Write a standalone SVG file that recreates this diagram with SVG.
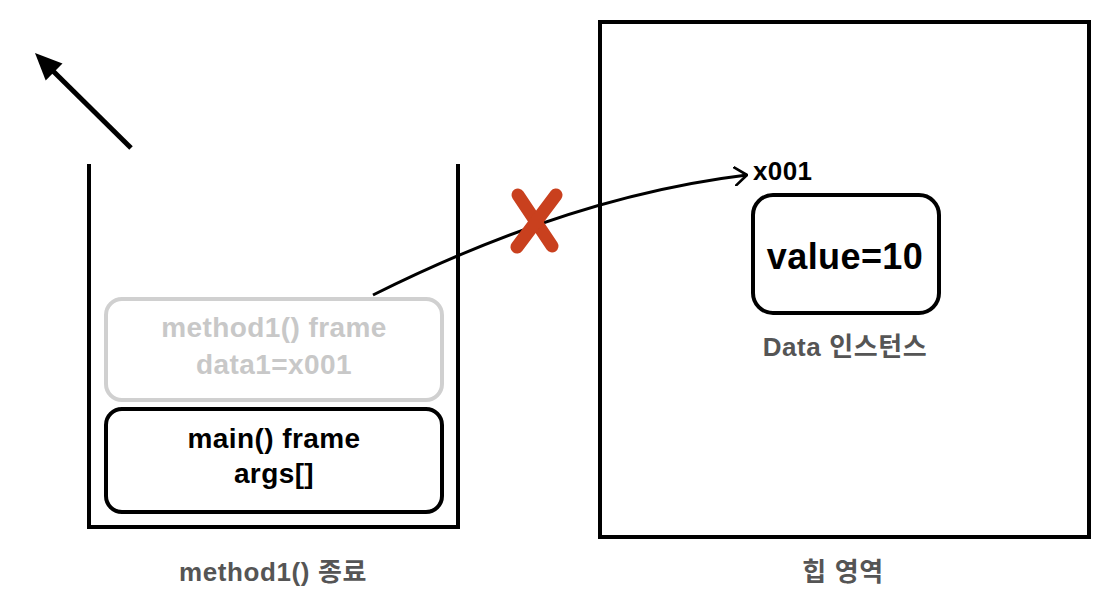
<svg xmlns="http://www.w3.org/2000/svg" width="1113" height="606" viewBox="0 0 1113 606">
<style>
text{font-family:"Liberation Sans","Noto Sans CJK KR",sans-serif;font-weight:bold;text-anchor:middle}
.frame{font-size:28px;letter-spacing:0.4px}
.lbl{font-size:26px;fill:#555;letter-spacing:0.6px}
.box{fill:#fff;stroke-width:4}
</style>
<defs>
<marker id="chev" viewBox="0 0 14 20" refX="13" refY="10" markerWidth="14" markerHeight="20" markerUnits="userSpaceOnUse" orient="auto">
<path d="M1,1 L13,10 L1,19" fill="none" stroke="#000" stroke-width="2.6" stroke-linecap="round" stroke-linejoin="round"/>
</marker>
</defs>
<rect width="1113" height="606" fill="#fff"/>
<g id="stack">
<path d="M89,164 V527 H458 V164" fill="none" stroke="#000" stroke-width="4"/>
</g>
<g id="heap">
<rect x="600" y="22" width="489" height="515" fill="none" stroke="#000" stroke-width="4"/>
</g>
<g id="method1-frame">
<rect class="box" x="106" y="299" width="336" height="101" rx="16" stroke="#d0d0d0"/>
<text class="frame" x="274" y="337" fill="#c8c8c8">method1() frame</text>
<text class="frame" x="274" y="374" fill="#c8c8c8">data1=x001</text>
</g>
<g id="main-frame">
<rect class="box" x="106" y="409" width="336" height="103" rx="16" stroke="#000"/>
<text class="frame" x="274" y="448" fill="#000">main() frame</text>
<text class="frame" x="274" y="483" fill="#000">args[]</text>
</g>
<g id="data-instance">
<rect class="box" x="753" y="195" width="186" height="118" rx="20" stroke="#000" stroke-width="5"/>
<text x="845" y="269" font-size="36" fill="#000" style="letter-spacing:0.4px">value=10</text>
<text class="lbl" x="845" y="356" fill="#666">Data 인스턴스</text>
</g>
<g id="labels">
<text class="lbl" x="273" y="581">method1() 종료</text>
<text class="lbl" x="843" y="581">힙 영역</text>
<text x="753" y="180" font-size="26" fill="#000" style="text-anchor:start;letter-spacing:0.4px">x001</text>
</g>
<g id="connectors">
<path d="M373,295 Q571,196 747,175" fill="none" stroke="#000" stroke-width="3" marker-end="url(#chev)"/>
<line x1="131" y1="148" x2="52" y2="70" stroke="#000" stroke-width="5"/>
<polygon points="35,53 62.5,63.5 45.7,80.5" fill="#000"/>
</g>
<g id="cross" stroke="#c9401e" stroke-width="13" stroke-linecap="round">
<line x1="518" y1="195" x2="552" y2="246"/>
<line x1="556" y1="195" x2="517" y2="247"/>
</g>
</svg>
